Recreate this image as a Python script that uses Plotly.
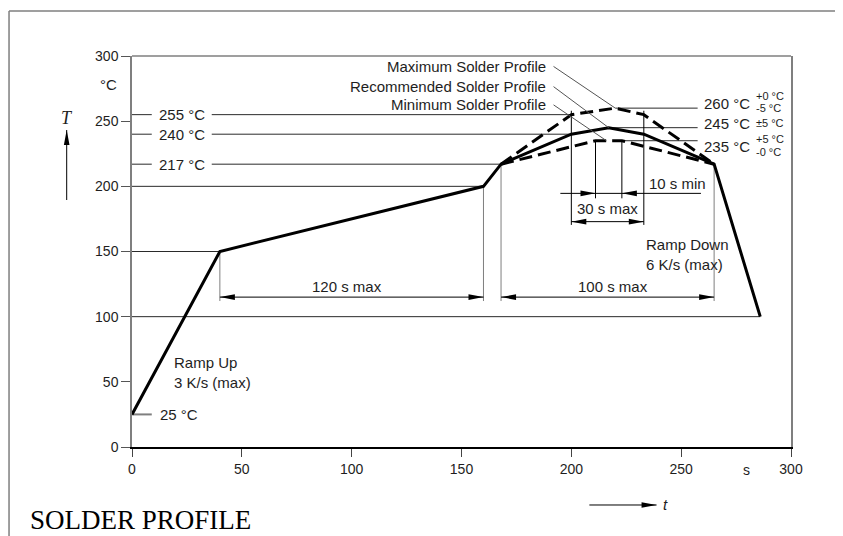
import plotly.graph_objects as go

# ---------------- data ----------------
time_rec = [0, 40, 160, 168, 200, 217, 233, 265, 286]
temp_rec = [25, 150, 200, 217, 240, 245, 240, 217, 100]
time_max = [168, 200, 220, 233, 265]
temp_max = [217, 255, 260, 255, 217]
time_min = [168, 211, 223, 265]
temp_min = [217, 235, 235, 217]

x_ticks = [0, 50, 100, 150, 200, 250, 300]
y_ticks = [0, 50, 100, 150, 200, 250, 300]

# left reference temperatures with label
left_ref_temps = [255, 240, 217]
left_ref_ends = [200, 200, 168]
left_labels = ["255 °C", "240 °C", "217 °C"]

# plain horizontal reference lines (temp, t_end)
plain_ref_temps = [200, 150, 100]
plain_ref_ends = [160, 40, 286]

# right reference temperatures
right_ref_temps = [260, 245, 235]
right_ref_starts = [220, 217, 223]
right_labels = ["260 °C", "245 °C", "235 °C"]
right_tol_sup = ["+0 °C", "", "+5 °C"]
right_tol_sub = ["-5 °C", "", "-0 °C"]
right_tol_mid = ["", "±5 °C", ""]

# time markers
soak_start, soak_end = 40, 160
liq_start, liq_end = 168, 265
peak30_start, peak30_end = 200, 233
peak10_start, peak10_end = 211, 223

# ---------------- style ----------------
FONT = "Liberation Sans, Arial, sans-serif"
DARK = "#1e1e1e"
LINE = "#2a2a2a"
GREY = "#7f7f7f"

fig = go.Figure()

fig.add_trace(go.Scatter(x=time_rec, y=temp_rec, mode="lines",
                         line=dict(color="black", width=3), hoverinfo="skip"))
fig.add_trace(go.Scatter(x=time_max, y=temp_max, mode="lines",
                         line=dict(color="black", width=3, dash="13px,6px"), hoverinfo="skip"))
fig.add_trace(go.Scatter(x=time_min, y=temp_min, mode="lines",
                         line=dict(color="black", width=3, dash="13px,6px"), hoverinfo="skip"))

shapes = []
annotations = []


def seg(x0, y0, x1, y1, color=LINE, width=1, xref="x", yref="y", layer="below"):
    shapes.append(dict(type="line", x0=x0, y0=y0, x1=x1, y1=y1, xref=xref, yref=yref,
                       line=dict(color=color, width=width), layer=layer))


def head(x, y, direction, xref="x", yref="y"):
    L, W = 15, 2.8
    if direction == "right":
        p = f"M0,0 L{-L},{W} L{-L},{-W} Z"
    elif direction == "left":
        p = f"M0,0 L{L},{W} L{L},{-W} Z"
    elif direction == "up":
        p = f"M0,0 L{W},{-L} L{-W},{-L} Z"
    else:
        p = f"M0,0 L{W},{L} L{-W},{L} Z"
    shapes.append(dict(type="path", xref=xref, yref=yref, xsizemode="pixel", ysizemode="pixel",
                       xanchor=x, yanchor=y, path=p, fillcolor="black",
                       line=dict(color="black", width=0), layer="above"))


def text(x, y, s, size=15, xanchor="center", xref="x", yref="y", family=FONT, color=DARK, align="left"):
    annotations.append(dict(x=x, y=y, xref=xref, yref=yref, text=s, showarrow=False,
                            xanchor=xanchor, yanchor="middle", align=align,
                            font=dict(family=family, size=size, color=color)))


# left labelled reference lines
lab_x = 22.6
for T, end, lab in zip(left_ref_temps, left_ref_ends, left_labels):
    seg(0, T, 9, T)
    seg(36.3, T, end, T)
    text(lab_x, T, lab)

for T, end in zip(plain_ref_temps, plain_ref_ends):
    seg(0, T, end, T)

# 25 °C start marker
seg(0, temp_rec[0], 9, temp_rec[0], color=GREY, width=2)
text(11.9, temp_rec[0], "25 °C", xanchor="left")

# right labelled reference lines
for T, start in zip(right_ref_temps, right_ref_starts):
    seg(start, T, 257.5, T)
off = {260: 3.7, 245: 3.4, 235: -4.5}
for T, lab, sup, sub, mid in zip(right_ref_temps, right_labels, right_tol_sup, right_tol_sub, right_tol_mid):
    text(259.6, T + off[T], lab, xanchor="left")
    if sup:
        text(283, T + off[T] + 5.5, sup, size=11, xanchor="left")
        text(283, T + off[T] - 3.8, sub, size=11, xanchor="left")
    if mid:
        text(283, T + off[T] + 0.3, mid, size=11, xanchor="left")

# vertical markers for 120 s / 100 s
arrow_T = 115
seg(soak_start, 150, soak_start, arrow_T - 3, color=GREY)
seg(soak_end, 200, soak_end, arrow_T - 3, color=GREY)
seg(liq_start, 217, liq_start, arrow_T - 3, color=GREY)
seg(liq_end, 217, liq_end, arrow_T - 3, color=GREY)
seg(soak_start, arrow_T, soak_end, arrow_T, color="black")
head(soak_start, arrow_T, "left")
head(soak_end, arrow_T, "right")
seg(liq_start, arrow_T, liq_end, arrow_T, color="black")
head(liq_start, arrow_T, "left")
head(liq_end, arrow_T, "right")
text(98, 122.8, "120 s max")
text(219, 122.8, "100 s max")

# peak time markers
seg(peak30_start, 258, peak30_start, 170.4, color="black")
seg(peak30_end, 258, peak30_end, 170.4, color="black")
seg(peak10_start, 235, peak10_start, 190.8, color="black")
seg(peak10_end, 235, peak10_end, 190.8, color="black")
seg(peak30_start, 172.9, peak30_end, 172.9, color="black")
head(peak30_start, 172.9, "left")
head(peak30_end, 172.9, "right")
text(216.6, 183.2, "30 s max")
seg(195, 194.6, 259, 194.6, color="black")
head(peak10_start, 194.6, "right")
head(peak10_end, 194.6, "left")
text(234.5, 202.3, "10 s min", xanchor="left")

# profile labels with leader lines
prof_labels = ["Maximum Solder Profile", "Recommended Solder Profile", "Minimum Solder Profile"]
prof_label_T = [292, 276.5, 262.5]
prof_targets_t = [time_max[2], time_rec[5], 216]
prof_targets_T = [temp_max[2], temp_rec[5], temp_min[1]]
for lab, T, tt, tT in zip(prof_labels, prof_label_T, prof_targets_t, prof_targets_T):
    text(189.6, T, lab, xanchor="right")
    seg(191.9, T, tt, tT, color="#555555", width=1, layer="above")

# ramp texts
text(18, 57.5, "Ramp Up<br>3 K/s (max)", xanchor="left")
text(233, 147.7, "Ramp Down<br>6 K/s (max)", xanchor="left")

# frame top line
seg(0, 1, 1, 1, color=GREY, width=1.5, xref="paper", yref="paper", layer="above")

# axis annotations outside plot
text(-0.0364, 0.926, "°C", xref="paper", yref="paper")
text(-0.0991, 0.8427, "<i>T</i>", size=18, xref="paper", yref="paper",
     family="Liberation Serif, Times New Roman, serif")
seg(-0.0991, 0.6317, -0.0991, 0.8107, color="black", width=1, xref="paper", yref="paper", layer="above")
head(-0.0991, 0.8107, "up", xref="paper", yref="paper")
text(0.9328, -0.0588, "s", size=14, xref="paper", yref="paper")
seg(0.694, -0.1483, 0.796, -0.1483, color="black", width=1, xref="paper", yref="paper", layer="above")
head(0.796, -0.1483, "right", xref="paper", yref="paper")
text(0.809, -0.1483, "<i>t</i>", size=15, xref="paper", yref="paper")

# caption and outer border
text(-0.1578, -0.1867, "SOLDER PROFILE", size=27, xanchor="left", xref="paper", yref="paper",
     family="Liberation Serif, Times New Roman, serif", color="black")
seg(-0.1866, 1.1151, -0.1866, -0.25, color=GREY, width=1.5, xref="paper", yref="paper", layer="above")
seg(-0.1866, 1.1151, 1.1, 1.1151, color=GREY, width=1.5, xref="paper", yref="paper", layer="above")

# the page body adds an 8 px offset, so the figure is 8 px smaller on each side
fig.update_layout(
    width=835, height=528,
    margin=dict(l=124, r=52, t=48, b=89),
    paper_bgcolor="white", plot_bgcolor="white",
    showlegend=False,
    shapes=shapes, annotations=annotations,
    font=dict(family=FONT, size=14, color=DARK),
    xaxis=dict(range=[0, 300], tickvals=x_ticks, ticks="outside", ticklen=8, tickcolor="#444",
               showgrid=False, zeroline=False, showline=True, linecolor="black", linewidth=1.5,
               tickfont=dict(size=14, color=DARK), fixedrange=True),
    yaxis=dict(range=[0, 300], tickvals=y_ticks, ticks="outside", ticklen=9, tickcolor="#555",
               showgrid=False, zeroline=False, showline=True, linecolor=GREY, linewidth=1.5,
               mirror=True, tickfont=dict(size=14, color=DARK), fixedrange=True),
)

fig.write_html("out.html")
